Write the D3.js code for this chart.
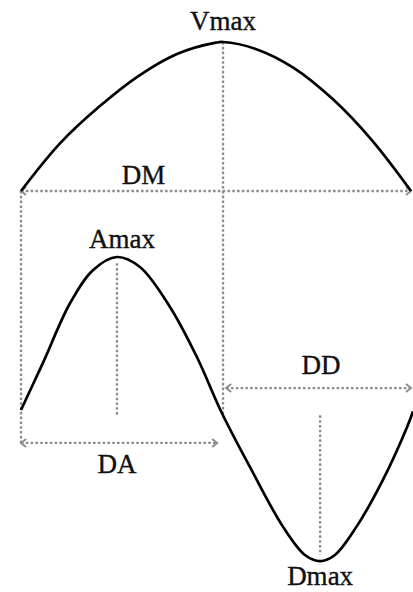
<!DOCTYPE html>
<html>
<head>
<meta charset="utf-8">
<script src="https://cdn.jsdelivr.net/npm/d3@7"></script>
<style>
  html, body { margin: 0; padding: 0; background: #fff; }
  svg { display: block; }
  text { font-family: "Liberation Serif", "Times New Roman", serif; font-size: 27px; fill: #111; stroke: #111; stroke-width: 0.35; }
</style>
</head>
<body>
<script>
// ---- data ----
// velocity profile: time (0-100) vs velocity (% of Vmax)
const velTime  = [0, 10, 20, 30, 40, 50, 51.8, 60, 70, 80, 90, 100];
const velValue = [0, 32, 56.5, 77, 92, 99.6, 100, 95.5, 82.5, 61.5, 34, 0];
// acceleration profile: time (0-100) vs acceleration (% of Amax)
const accTime  = [0, 5.6, 12.6, 18.5, 24.6, 30.5, 38.2, 45.1, 51.5, 58.7, 67.2, 72.8, 76.7, 80.5, 86, 92.8, 99, 100.5];
const accValue = [1.9, 32, 70.5, 91.7, 100, 93.6, 68, 35.9, 0, -34.6, -73, -91, -94.9, -91, -73, -42.9, -9, 1];
// annotation labels
const labels = ["Vmax", "DM", "Amax", "DD", "DA", "Dmax"];
const tVmax = 51.8, tAmax = 24.6, tDmax = 76.7;
const tDD = 52.6, tDA = 50.3;
const aDD = 16, aDA = -19.2, aDmax = -94.9;

// ---- layout ----
const W = 413, H = 592;
const svg = d3.select("body").append("svg").attr("width", W).attr("height", H);

const x  = d3.scaleLinear().domain([0, 100]).range([21, 411]);
const yV = d3.scaleLinear().domain([0, 100]).range([191, 42]);
const yA = d3.scaleLinear().domain([-100, 100]).range([569, 257]);

const gray = "#8e8e8e";
const defs = svg.append("defs");
function marker(id, d) {
  defs.append("marker").attr("id", id)
    .attr("viewBox", "-6 -6 12 12").attr("refX", 0).attr("refY", 0)
    .attr("markerWidth", 12).attr("markerHeight", 12)
    .attr("markerUnits", "userSpaceOnUse").attr("orient", "auto")
    .append("path").attr("d", d)
    .attr("fill", "none").attr("stroke", gray).attr("stroke-width", 2);
}
marker("arrEnd", "M-5,-4 L0,0 L-5,4");
marker("arrStart", "M5,-4 L0,0 L5,4");

const guides = svg.append("g")
  .attr("stroke", gray).attr("stroke-width", 2.3).attr("stroke-dasharray", "2.6,2.2").attr("fill", "none");

function seg(x1, y1, x2, y2, arrows) {
  const l = guides.append("line").attr("x1", x1).attr("y1", y1).attr("x2", x2).attr("y2", y2);
  if (arrows) l.attr("marker-start", "url(#arrStart)").attr("marker-end", "url(#arrEnd)");
  return l;
}

// verticals
seg(x(0), yV(0), x(0), yA(aDA));
seg(x(tVmax), yV(100), x(tVmax), yA(-1.5));
seg(x(tAmax), yA(96), x(tAmax), yA(-1.5));
seg(x(tDmax), yA(-1.5), x(tDmax), yA(aDmax + 4));
// horizontal dimension arrows
seg(x(0), yV(0), x(100), yV(0), true);
seg(x(tDD), yA(aDD), x(100), yA(aDD), true);
seg(x(0), yA(aDA), x(tDA), yA(aDA), true);

// curves
const velLine = d3.line().x((d, i) => x(velTime[i])).y(d => yV(d)).curve(d3.curveCatmullRom.alpha(0.5));
const accLine = d3.line().x((d, i) => x(accTime[i])).y(d => yA(d)).curve(d3.curveCatmullRom.alpha(0.5));

svg.append("path").attr("d", velLine(velValue))
  .attr("fill", "none").attr("stroke", "#000").attr("stroke-width", 2.7);
svg.append("path").attr("d", accLine(accValue))
  .attr("fill", "none").attr("stroke", "#000").attr("stroke-width", 2.7);

// labels
const labelPos = [
  [x(tVmax), yV(100) - 12],
  [x(31.4), yV(0) - 7],
  [x(25.9), yA(100) - 9],
  [x(76.9), yA(aDD) - 14],
  [x(24.6), yA(aDA) + 30],
  [x(tDmax), yA(aDmax) + 24]
];
svg.append("g").selectAll("text").data(labels).join("text")
  .attr("x", (d, i) => labelPos[i][0])
  .attr("y", (d, i) => labelPos[i][1])
  .attr("text-anchor", "middle")
  .text(d => d);
</script>
</body>
</html>
